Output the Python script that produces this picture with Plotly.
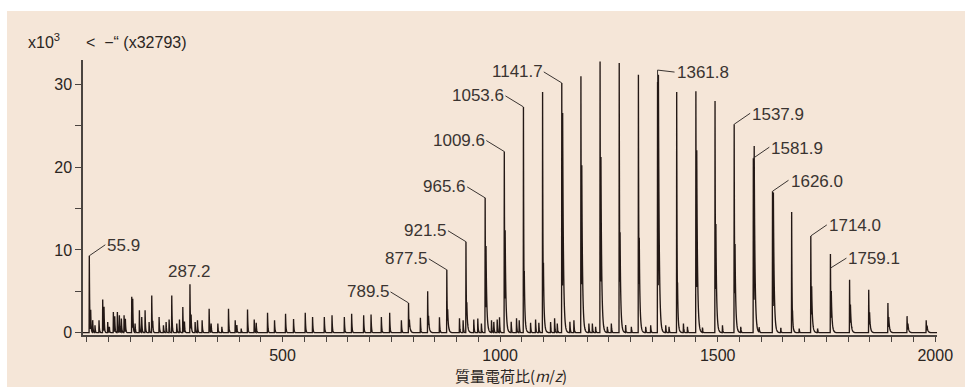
import numpy as np
import plotly.graph_objects as go

# ---------------- data (intensity in units of 10^3 counts) ----------------
# main oligomer series (m/z, apex intensity)
series_mz = [789.5, 833.5, 877.5, 921.5, 965.6, 1009.6, 1053.6, 1097.6, 1141.7,
             1185.7, 1229.7, 1273.7, 1317.8, 1361.8, 1405.8, 1449.9, 1493.9,
             1537.9, 1581.9, 1626.0, 1670.0, 1714.0, 1759.1, 1803.1, 1847.1,
             1891.2, 1935.2, 1979.2]
series_int = [3.6, 5.0, 7.6, 11.0, 16.3, 21.9, 27.3, 29.1, 30.2,
              31.0, 32.8, 32.6, 31.2, 30.3, 29.1, 29.2, 28.0,
              25.2, 21.1, 17.1, 14.6, 11.7, 9.5, 6.4, 5.2,
              3.6, 2.0, 1.5]
# shoulder peak just above each series member
shoulder_int = [1.2, 1.5, 2.0, 2.5, 8.7, 10.0, 4.5, 5.3, 23.3,
                16.9, 17.7, 8.6, 8.1, 27.9, 2.9, 18.9, 10.1,
                8.0, 20.3, 15.1, 1.1, 4.35, 4.0, 2.7, 1.9,
                1.5, 0.9, 0.7]

# low-mass and minor peaks
minor_mz = [55.9, 59.1, 63.7, 69.0, 78.2, 86.7, 89.7, 98.2, 102.0, 111.2,
            114.3, 120.4, 125.0, 129.6, 135.8, 138.8, 153.4, 155.7, 161.1, 171.0,
            176.4, 184.1, 193.3, 199.4, 201.7, 216.3, 226.3, 232.4, 239.3, 245.4,
            256.9, 263.1, 270.8, 274.6, 287.2, 289.9, 299.1, 304.5, 315.2, 331.3,
            335.9, 351.3, 360.5, 375.8, 391.2, 395.0, 405.0, 419.5, 434.9, 439.5,
            465.5, 481.6, 506.9, 525.3, 552.2, 569.0, 596.0, 613.7, 642.0, 658.8,
            686.4, 703.4, 727.1, 746.2, 773.1, 816.8, 860.6, 906.6, 915.0, 939.5,
            948.7, 957.0, 980.2, 985.5, 993.3, 998.6, 1025.5, 1037.7, 1043.9, 1070.0,
            1081.5, 1089.0, 1116.0, 1125.2, 1131.4, 1160.4, 1169.6, 1204.0, 1212.0, 1219.5,
            1246.4, 1255.6, 1288.5, 1301.6, 1334.6, 1346.0, 1380.6, 1388.2, 1421.3, 1430.5,
            1465.0, 1511.0, 1553.0, 1595.3, 1645.0, 1687.3, 1729.6]
minor_int = [9.3, 2.5, 1.5, 0.9, 1.5, 4.0, 3.0, 1.3, 0.7, 2.5,
             1.9, 2.5, 2.1, 1.7, 2.1, 1.6, 4.35, 3.75, 1.1, 2.7,
             1.9, 2.7, 1.3, 4.5, 1.1, 1.9, 0.9, 1.3, 1.6, 4.5,
             1.1, 1.6, 3.1, 1.3, 5.85, 1.9, 1.3, 1.5, 1.5, 2.9,
             1.1, 1.1, 0.7, 2.9, 1.5, 0.9, 0.5, 2.8, 1.6, 1.2,
             2.4, 1.5, 2.3, 1.65, 2.4, 1.9, 1.9, 2.1, 1.9, 2.3,
             2.1, 2.2, 1.9, 2.4, 1.5, 1.8, 1.86, 1.74, 1.5, 1.6,
             1.7, 1.1, 1.5, 1.3, 1.6, 1.86, 1.3, 1.74, 1.5, 1.2,
             1.6, 1.2, 1.3, 1.74, 1.1, 1.3, 1.5, 1.1, 1.1, 0.7,
             0.7, 1.1, 0.9, 0.7, 0.7, 0.9, 0.9, 0.7, 1.1, 0.7,
             0.6, 0.9, 0.7, 0.6, 0.6, 0.5, 0.5]

# annotated peaks
labels_left = [789.5, 877.5, 921.5, 965.6, 1009.6, 1053.6, 1141.7]
labels_right = [55.9, 1537.9, 1581.9, 1626.0, 1714.0]
label_bent = 1361.8
label_low = 1759.1
label_top = 287.2

x_ticks = [500, 1000, 1500, 2000]
y_ticks = [0, 10, 20, 30]

# ---------------- styles ----------------
BG = "#f5e6d8"
INK = "#231815"
AX = "#4a4440"
TXT = "#2a2522"
LBL_FONT = dict(family="Liberation Sans", size=17, color="#3a3431")
TICK_FONT = dict(family="Liberation Sans", size=16, color=TXT)

# ---------------- build profile spectrum ----------------
grid = np.arange(400, 20041) / 10.0
peaks = []
for m, h, s in zip(series_mz, series_int, shoulder_int):
    peaks.append((m, h, 0.9))
    peaks.append((round(m + 2.0, 1), s, 2.0))
for m, h in zip(minor_mz, minor_int):
    peaks.append((m, h, 0.9))

signal = np.zeros_like(grid)
for m, h, tau in peaks:
    d = grid - m
    rise = (d > -0.5) & (d <= 0)
    fall = d > 0
    signal[rise] += h * (1 + d[rise] / 0.5)
    signal[fall] += h * np.exp(-d[fall] / tau)

intensity = dict(zip(series_mz, series_int))
intensity.update(dict(zip(minor_mz, minor_int)))

fig = go.Figure()
fig.add_trace(go.Scatter(x=grid, y=signal, mode="lines",
                         line=dict(color=INK, width=1.35, simplify=False),
                         hoverinfo="skip", showlegend=False))

# ---------------- layout geometry ----------------
W, H = 965, 387
L, R, T, B = 83, 28, 60, 52
pw, ph = W - L - R, H - T - B


def px_x(p):
    return (p - L) / pw


def px_y(p):
    return (H - B - p) / ph


shapes = [dict(type="rect", xref="paper", yref="paper",
               x0=px_x(7), x1=px_x(W), y0=px_y(H), y1=px_y(11),
               fillcolor=BG, line=dict(width=0), layer="below")]
annotations = []


def leader(m, x0, y0, x1, y1):
    shapes.append(dict(type="line", xref="x", yref="y",
                       xsizemode="pixel", ysizemode="pixel",
                       xanchor=m, yanchor=intensity[m],
                       x0=x0, y0=y0, x1=x1, y1=y1,
                       line=dict(color="#3a3431", width=1)))


def label(m, xs, ys, anchor):
    annotations.append(dict(x=m, y=intensity[m], xref="x", yref="y",
                            text=f"{m:.1f}", showarrow=False,
                            xanchor=anchor, yanchor="middle",
                            xshift=xs, yshift=ys, borderpad=0,
                            font=LBL_FONT))


for m in labels_left:
    leader(m, 0, 0, -18, 11)
    label(m, -18, 11, "right")
for m in labels_right:
    leader(m, 0, 0, 16, 11)
    label(m, 17, 10, "left")

# bent leader rising above the apex
shapes.append(dict(type="path", xref="x", yref="y",
                   xsizemode="pixel", ysizemode="pixel",
                   xanchor=label_bent, yanchor=intensity[label_bent],
                   path="M0,0 L0,12 L17,10",
                   line=dict(color="#3a3431", width=1)))
label(label_bent, 18, 10, "left")

# leader attached part-way down the peak
leader(label_low, 0, -14, 16, -4)
label(label_low, 17, -4, "left")

annotations.append(dict(x=label_top, y=intensity[label_top], xref="x", yref="y",
                        text=f"{label_top:.1f}", showarrow=False,
                        xanchor="center", yanchor="bottom", yshift=2,
                        borderpad=0, font=LBL_FONT))

# axis scale notes and title
annotations.append(dict(xref="paper", yref="paper", x=px_x(26), y=px_y(53),
                        xanchor="left", yanchor="bottom", showarrow=False,
                        text="x10<sup>3</sup>",
                        font=dict(family="Liberation Sans", size=16, color=TXT)))
annotations.append(dict(xref="paper", yref="paper", x=px_x(84), y=px_y(53),
                        xanchor="left", yanchor="bottom", showarrow=False,
                        text="<\u00a0\u00a0\u2212\u201c\u00a0(x32793)",
                        font=dict(family="Liberation Sans", size=16, color=TXT)))
annotations.append(dict(xref="paper", yref="paper", x=px_x(511), y=px_y(375),
                        xanchor="center", yanchor="middle", showarrow=False,
                        text="質量電荷比(<i>m</i>/<i>z</i>)",
                        font=dict(family="Noto Sans CJK JP", size=15, color=TXT)))

fig.update_layout(
    width=W, height=H,
    margin=dict(l=L, r=R, t=T, b=B, pad=0),
    paper_bgcolor="white", plot_bgcolor=BG,
    shapes=shapes, annotations=annotations,
    xaxis=dict(range=[41.4, 2004], showline=True, linecolor=AX, linewidth=1.5,
               ticks="outside", ticklen=5, tickwidth=1.2, tickcolor=AX,
               tickvals=x_ticks, ticktext=[str(v) for v in x_ticks],
               minor=dict(tick0=0, dtick=50, ticks="outside", ticklen=5,
                          tickwidth=1.2, tickcolor=AX),
               showgrid=False, zeroline=False, tickfont=TICK_FONT),
    yaxis=dict(range=[-0.28, 32.97], showline=True, linecolor=AX, linewidth=1.5,
               ticks="outside", ticklen=6, tickwidth=1.2, tickcolor=AX,
               tickvals=y_ticks, ticktext=[str(v) for v in y_ticks],
               minor=dict(tick0=0, dtick=5, ticks="outside", ticklen=6,
                          tickwidth=1.2, tickcolor=AX),
               showgrid=False, zeroline=False, tickfont=TICK_FONT),
)

fig.write_html("out.html")
